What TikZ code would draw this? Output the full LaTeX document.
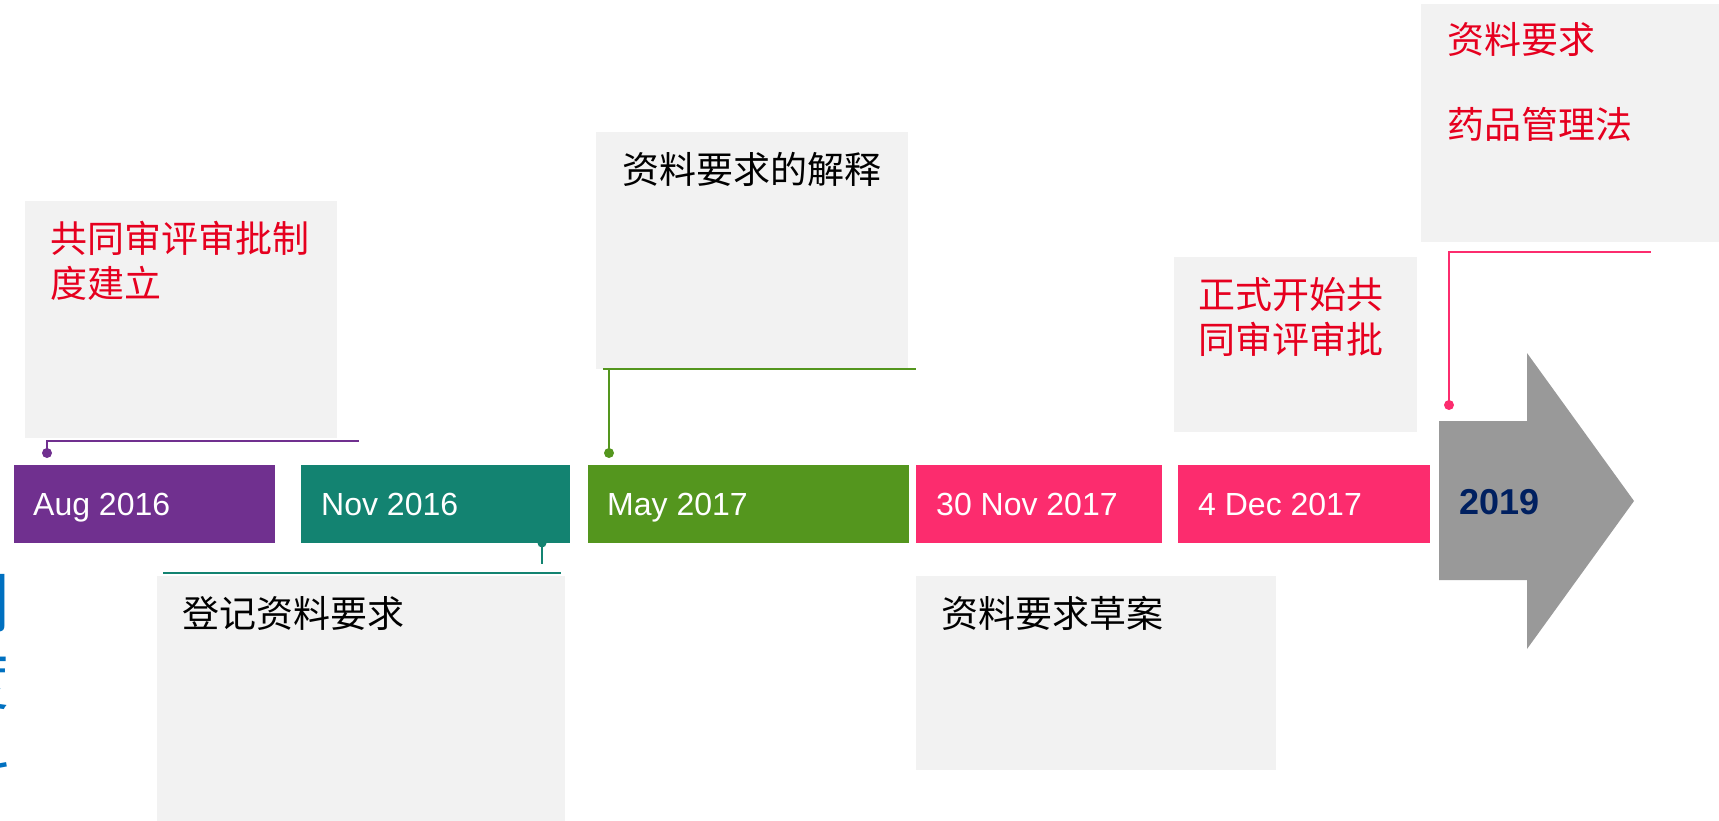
\documentclass[tikz,border=0pt]{standalone}
\usepackage{fontspec}
\setmainfont{Liberation Sans}
\newfontfamily\cjk{Noto Sans CJK SC}
\definecolor{cpurple}{HTML}{70308F}
\definecolor{cteal}{HTML}{138371}
\definecolor{cgreen}{HTML}{54961E}
\definecolor{cpink}{HTML}{FC2C6E}
\definecolor{boxgray}{HTML}{F2F2F2}
\definecolor{cred}{HTML}{E6001F}
\definecolor{arrowgray}{HTML}{999999}
\definecolor{cnavy}{HTML}{002060}
\definecolor{cblue}{HTML}{0070C0}
\begin{document}
\begin{tikzpicture}[x=1pt,y=-1pt,
  bar/.style={anchor=north west, inner sep=0pt, outer sep=0pt, minimum height=78pt},
  datetxt/.style={anchor=base west, inner sep=0pt, text=white, font=\fontsize{32}{38}\selectfont},
  graybox/.style={fill=boxgray, anchor=north west, inner sep=0pt, outer sep=0pt},
  cjktxt/.style={anchor=base west, inner sep=0pt, align=left, font=\cjk\fontsize{37}{45}\selectfont},
  bluechar/.style={anchor=base east, inner sep=0pt, text=cblue, font=\cjk\fontsize{64}{64}\selectfont},
  conn/.style={line width=2pt},
  dotr/.style={radius=5pt}
]
\useasboundingbox (0,0) rectangle (1719,821);
\clip (0,0) rectangle (1719,821);

% partially visible blue title at the left edge
\node[bluechar] (t1) at (10,627) {制};
\node[bluechar] (t2) at (10,704) {度};
\node[bluechar] (t3) at (10,781) {料};

% grey boxes
\node[graybox, minimum width=312pt, minimum height=237pt] (g1) at (25,201) {};
\node[graybox, minimum width=408pt, minimum height=260pt] (g2) at (157,576) {};
\node[graybox, minimum width=312pt, minimum height=237pt] (g3) at (596,132) {};
\node[graybox, minimum width=360pt, minimum height=194pt] (g4) at (916,576) {};
\node[graybox, minimum width=243pt, minimum height=175pt] (g5) at (1174,257) {};
\node[graybox, minimum width=310pt, minimum height=238pt] (g6) at (1421,4) {};

% box texts (base anchor = baseline of the last line)
\node[cjktxt, text=cred] (x1) at (50,297) {共同审评审批制\\度建立};
\node[cjktxt] (x2) at (182,627) {登记资料要求};
\node[cjktxt] (x3) at (622,184) {资料要求的解释};
\node[cjktxt] (x4) at (941,627) {资料要求草案};
\node[cjktxt, text=cred] (x5) at (1198,353) {正式开始共\\同审评审批};
\node[cjktxt, text=cred, font=\cjk\fontsize{37}{85}\selectfont] (x6) at (1447,139) {资料要求\\药品管理法};

% date bars
\node[bar, fill=cpurple, minimum width=261pt] (b1) at (14,465) {};
\node[bar, fill=cteal, minimum width=269pt] (b2) at (301,465) {};
\node[bar, fill=cgreen, minimum width=321pt] (b3) at (588,465) {};
\node[bar, fill=cpink, minimum width=246pt] (b4) at (916,465) {};
\node[bar, fill=cpink, minimum width=252pt] (b5) at (1178,465) {};

\node[datetxt] (l1) at (33,515) {Aug 2016};
\node[datetxt] (l2) at (321,515) {Nov 2016};
\node[datetxt] (l3) at (607,515) {May 2017};
\node[datetxt] (l4) at (936,515) {30 Nov 2017};
\node[datetxt] (l5) at (1198,515) {4 Dec 2017};

% big arrow
\fill[arrowgray] (1439,421) -- (1527,421) -- (1527,353) -- (1634,501)
  -- (1527,649) -- (1527,580) -- (1439,580) -- cycle;
\node[anchor=base west, inner sep=0pt, text=cnavy, font=\bfseries\fontsize{36}{40}\selectfont] (y19) at (1459,514) {2019};

% connectors
\coordinate (d1) at (47,453);
\coordinate (e1) at (359,441);
\draw[conn, cpurple] (d1) |- (e1);
\fill[cpurple] (d1) circle[dotr];

\coordinate (d2) at (542,543);
\coordinate (d2e) at (542,564);
\coordinate (h2a) at (163,573);
\coordinate (h2b) at (561,573);
\draw[line width=1.6pt, cteal] (d2) -- (d2e);
\draw[line width=1.6pt, cteal] (h2a) -- (h2b);
\fill[cteal] (d2) circle[radius=4.5pt];

\coordinate (d3) at (609,453);
\coordinate (d3t) at (609,369);
\coordinate (e3a) at (603,369);
\coordinate (e3b) at (916,369);
\draw[conn, cgreen] (d3) -- (d3t);
\draw[conn, cgreen] (e3a) -- (e3b);
\fill[cgreen] (d3) circle[dotr];

\coordinate (d6) at (1449,405);
\coordinate (e6) at (1651,252);
\draw[conn, cpink] (d6) |- (e6);
\fill[cpink] (d6) circle[dotr];
\end{tikzpicture}
\end{document}
